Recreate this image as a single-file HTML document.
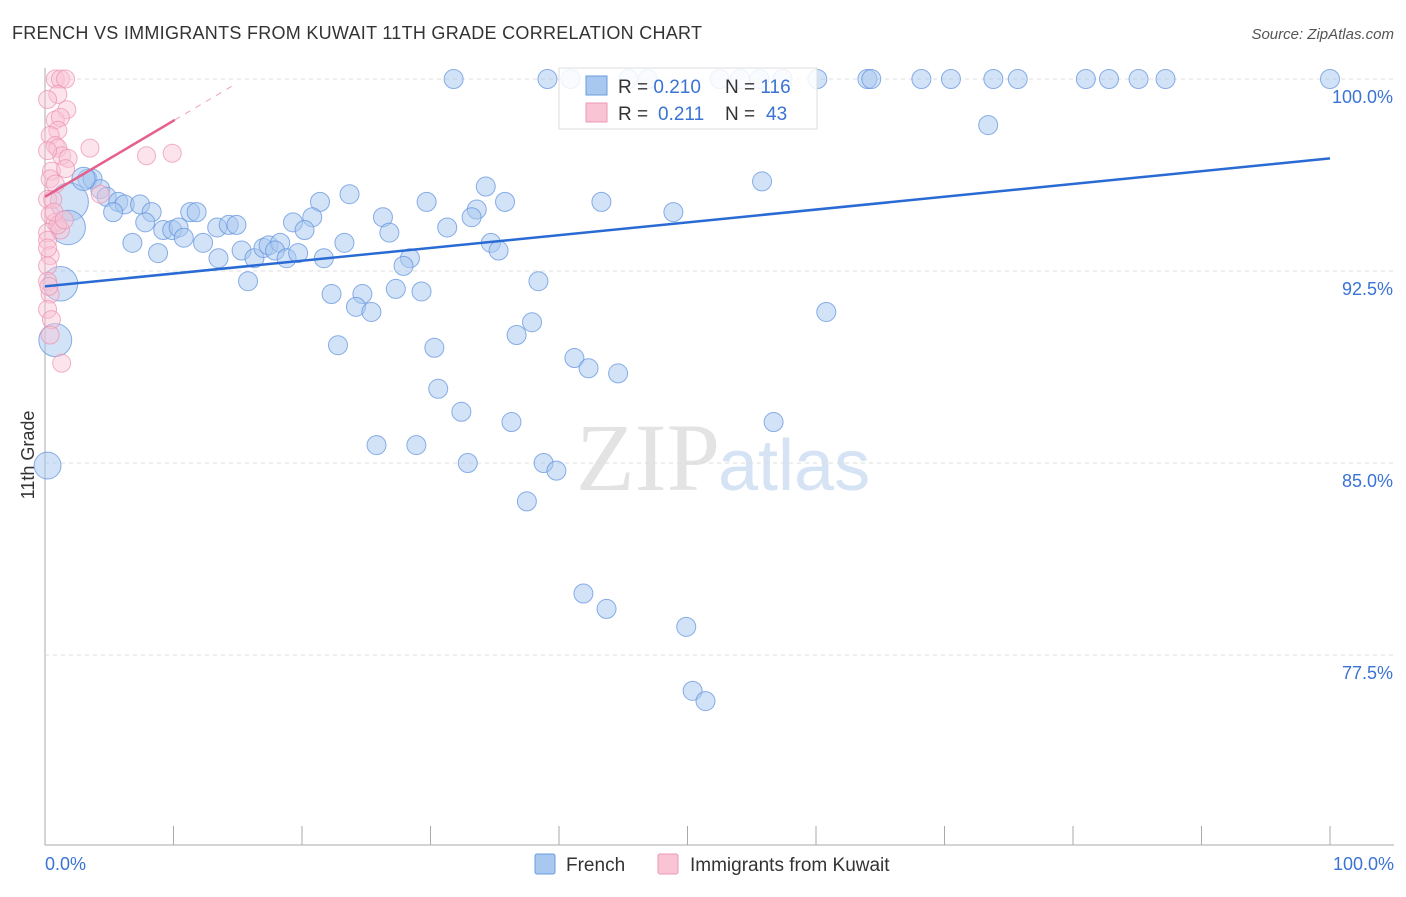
<!DOCTYPE html>
<html><head><meta charset="utf-8"><style>
body{margin:0;background:#fff;font-family:"Liberation Sans",sans-serif}
</style></head><body>
<svg id="c" width="1406" height="892" xmlns="http://www.w3.org/2000/svg" font-family="Liberation Sans, sans-serif">
<text x="12" y="39" font-size="18" fill="#333" textLength="690" lengthAdjust="spacing">FRENCH VS IMMIGRANTS FROM KUWAIT 11TH GRADE CORRELATION CHART</text>
<text x="1394" y="39" font-size="15" fill="#555" text-anchor="end" font-style="italic">Source: ZipAtlas.com</text>
<text x="720" y="490" font-size="96" fill="#e3e3e3" text-anchor="end" font-family="Liberation Serif, serif">ZIP</text>
<text x="718" y="490" font-size="72" fill="#d5e3f5">atlas</text>
<text transform="translate(34,455) rotate(-90)" font-size="18" fill="#333" text-anchor="middle">11th Grade</text>
<g id="grid"></g><g id="pts"></g><g id="lines"></g>
<g>
<rect x="559" y="68" width="258" height="61" fill="#fff" fill-opacity="0.85" stroke="#ddd"/>
<rect x="586" y="76" width="21" height="19" fill="#a8c8f0" stroke="#6a9ee0"/>
<rect x="586" y="103" width="21" height="19" fill="#f9c4d4" stroke="#ee99b4"/>
<text x="618" y="93" font-size="19" fill="#333">R = <tspan fill="#3b73d4">0.210</tspan><tspan x="725">N = </tspan><tspan fill="#3b73d4">116</tspan></text>
<text x="618" y="120" font-size="19" fill="#333">R = <tspan x="658" fill="#3b73d4">0.211</tspan><tspan x="725">N = </tspan><tspan x="766" fill="#3b73d4">43</tspan></text>
</g>
<g>
<rect x="535" y="854" width="20" height="20" fill="#a8c8f0" stroke="#6a9ee0" rx="2"/>
<text x="566" y="871" font-size="19" fill="#333">French</text>
<rect x="658" y="854" width="20" height="20" fill="#f9c4d4" stroke="#ee99b4" rx="2"/>
<text x="690" y="871" font-size="19" fill="#333">Immigrants from Kuwait</text>
</g>
<text x="45" y="870" font-size="18" fill="#3b73d4">0.0%</text>
<text x="1394" y="870" font-size="18" fill="#3b73d4" text-anchor="end">100.0%</text>
</svg>
<script>
const yTicks=[100,92.5,85,77.5];
const yTickLabels=["100.0%","92.5%","85.0%","77.5%"];
const xTicks=[0,10,20,30,40,50,60,70,80,90,100];
const blueX=[31.8,39.1,40.9,45.4,46.9,52.5,54.1,55.6,57.4,60.1,64.0,64.3,68.2,70.5,73.8,75.7,81.0,82.8,85.1,87.2,100,
73.4,55.8,34.3,23.7,21.4,29.7,35.8,43.3,33.6,48.9,33.2,20.8,26.3,19.3,31.3,26.8,20.2,23.3,34.7,35.3,28.4,27.9,38.4,22.3,24.7,27.3,29.3,24.2,25.4,37.9,36.7,60.8,22.8,30.3,41.2,42.3,44.6,30.6,32.4,36.3,56.7,25.8,28.9,32.9,38.8,39.8,37.5,41.9,43.7,49.9,50.4,51.4,
3.3,3.7,4.3,4.8,5.7,6.2,7.4,5.3,8.3,11.3,11.8,6.8,8.8,7.8,9.2,9.9,10.4,10.8,12.3,13.4,14.3,14.9,13.5,15.3,16.3,17.0,17.4,18.3,17.9,18.8,19.7,21.7,15.8,
1.9,1.8,1.2,0.8,0.2,3.0];
const blueY=[100,100,100,100,100,100,100,100,100,100,100,100,100,100,100,100,100,100,100,100,100,
98.2,96.0,95.8,95.5,95.2,95.2,95.2,95.2,94.9,94.8,94.6,94.6,94.6,94.4,94.2,94.0,94.1,93.6,93.6,93.3,93.0,92.7,92.1,91.6,91.6,91.8,91.7,91.1,90.9,90.5,90.0,90.9,89.6,89.5,89.1,88.7,88.5,87.9,87.0,86.6,86.6,85.7,85.7,85.0,85.0,84.7,83.5,79.9,79.3,78.6,76.1,75.7,
96.1,96.1,95.7,95.4,95.2,95.1,95.1,94.8,94.8,94.8,94.8,93.6,93.2,94.4,94.1,94.1,94.2,93.8,93.6,94.2,94.3,94.3,93.0,93.3,93.0,93.4,93.5,93.6,93.3,93.0,93.2,93.0,92.1,
95.2,94.2,92.0,89.8,84.9,96.1];
const blueW=[];for(let i=0;i<blueX.length;i++)blueW.push(1);
blueW.splice(blueX.length-6,6,4,3.3,3.3,3,2,1.5);
const pinkX=[0.8,1.2,1.6,1.0,1.7,0.8,1.2,1.0,0.4,0.8,1.0,1.3,1.8,0.5,1.6,0.4,0.8,0.2,0.4,0.8,0.2,1.2,0.2,0.4,0.2,0.2,0.4,0.2,0.5,0.4,1.3,3.5,7.9,9.9,4.3,0.2,0.2,0.6,1.0,0.2,0.7,1.5,0.3];
const pinkY=[100,100,100,99.4,98.8,98.4,98.5,98.0,97.8,97.4,97.3,97.0,96.9,96.4,96.5,96.1,95.9,95.3,94.7,94.4,94.0,94.1,93.7,93.1,92.7,92.1,91.6,91.0,90.6,90.0,88.9,97.3,97.0,97.1,95.5,99.2,97.2,95.3,94.3,93.4,94.8,94.5,91.9];
const blueTrend=[91.9,96.9];
const pinkTrend=[95.4,98.4,10.1,14.6];
const X=v=>45+v*12.85, Y=v=>79+(100-v)*25.6;
const NS="http://www.w3.org/2000/svg";
function mk(t,a,p){const e=document.createElementNS(NS,t);for(const k in a)e.setAttribute(k,a[k]);p.appendChild(e);return e;}
const grid=document.getElementById('grid'),pts=document.getElementById('pts'),lines=document.getElementById('lines');
const axL=mk('line',{x1:45,y1:68,x2:45,y2:845,stroke:'#aaa'},grid);


const axB=mk('line',{x1:45,y1:845,x2:1394,y2:845,stroke:'#aaa'},grid);


yTicks.forEach((v,i)=>{
 const g=mk('line',{x1:45,y1:Y(v),x2:1394,y2:Y(v),stroke:'#ddd','stroke-dasharray':'4,4'},grid);
 
 
 const t=mk('text',{x:1393,y:Y(v)+24,'font-size':18,fill:'#3b73d4','text-anchor':'end'},grid);
 t.textContent=yTickLabels[i];
 
 
});
xTicks.forEach(v=>{
 const t=mk('line',{x1:X(v),y1:826,x2:X(v),y2:845,stroke:'#aaa'},grid);
 
 
});
blueX.forEach((x,i)=>{
 const c=mk('circle',{cx:X(x),cy:Y(blueY[i]),r:9.5*Math.sqrt(blueW[i]),fill:'#a8c8f0','fill-opacity':0.5,stroke:'#5b8fdd','stroke-opacity':0.7},pts);
 
 
});
pinkX.forEach((x,i)=>{
 const c=mk('circle',{cx:X(x),cy:Y(pinkY[i]),r:9,fill:'#f9c4d4','fill-opacity':0.45,stroke:'#ee90ae','stroke-opacity':0.7},pts);
 
 
});
const bl=mk('line',{x1:X(0),y1:Y(blueTrend[0]),x2:X(100),y2:Y(blueTrend[1]),stroke:'#2a6ad4','stroke-width':2.5},lines);


const ps=(pinkTrend[1]-pinkTrend[0])/pinkTrend[2];
const pl=mk('line',{x1:X(0),y1:Y(pinkTrend[0]),x2:X(pinkTrend[2]),y2:Y(pinkTrend[1]),stroke:'#e5608a','stroke-width':2.5},lines);


const pd=mk('line',{x1:X(pinkTrend[2]),y1:Y(pinkTrend[1]),x2:X(pinkTrend[3]),y2:Y(pinkTrend[0]+ps*pinkTrend[3]),stroke:'#eea0b8','stroke-width':1,'stroke-dasharray':'6,6'},lines);


</script>
</body></html>
